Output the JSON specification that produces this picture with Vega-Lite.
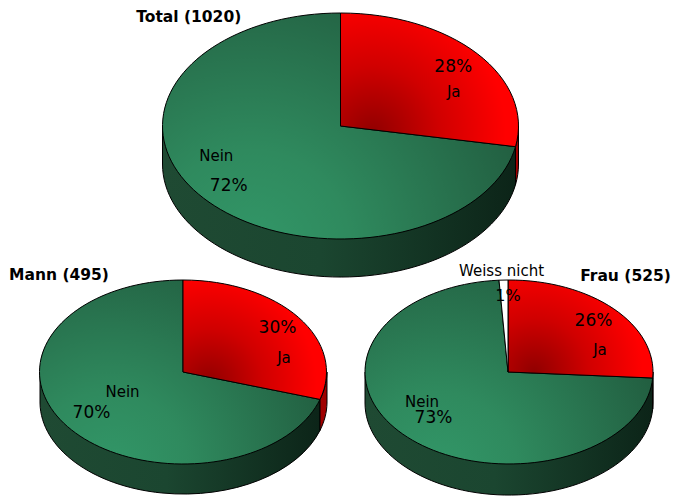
{
"$schema":"https://vega.github.io/schema/vega-lite/v6.json",
"width":673,"height":496,"padding":0,"autosize":{"type":"fit","contains":"padding"},
"background":"white",
"config":{"view":{"stroke":null}},
"resolve":{"scale":{"shape":"independent"}},
"datasets":{
"slices":[
{"pie":"Total","group":"Gesamt","answer":"Ja","share":0.28},
{"pie":"Total","group":"Gesamt","answer":"Nein","share":0.72},
{"pie":"Mann","group":"Geschlecht","answer":"Ja","share":0.30},
{"pie":"Mann","group":"Geschlecht","answer":"Nein","share":0.70},
{"pie":"Frau","group":"Geschlecht","answer":"Ja","share":0.26},
{"pie":"Frau","group":"Geschlecht","answer":"Nein","share":0.73},
{"pie":"Frau","group":"Geschlecht","answer":"Weiss nicht","share":0.01}
],
"pies":[
{"pie":"Total","group":"Gesamt","title":"Total (1020)"},
{"pie":"Mann","group":"Geschlecht","title":"Mann (495)"},
{"pie":"Frau","group":"Geschlecht","title":"Frau (525)"}
]},
"data":{"name":"slices"},
"encoding":{
"x":{"field":"pie","type":"nominal","axis":null,"scale":{"type":"point","domain":["Mann","Total","Frau"],"range":[183.5,509],"padding":0}},
"y":{"field":"group","type":"nominal","axis":null,"scale":{"type":"point","domain":["Gesamt","Geschlecht"],"range":[126,372],"padding":0}}
},
"layer":[
{"transform":[{"filter":"datum.answer=='Nein'"}],
 "mark":{"type":"point","filled":true,"size":4,"opacity":1,"stroke":"black","strokeWidth":1,
  "fill":{"gradient":"linear","x1":0,"x2":1,"y1":0,"y2":0,"stops":[{"offset":0,"color":"#1f4a33"},{"offset":0.45,"color":"#1b4630"},{"offset":1,"color":"#0c2418"}]}},
 "encoding":{"shape":{"field":"pie","type":"nominal","legend":null,"scale":{"domain":["Total","Mann","Frau"],"range":[
  "M-183.75,0 L-183.75,38 A178,113 0 0 0 169.25,58.7 L169.25,20.7 Z",
  "M-143.5,0 L-143.5,31 A143.5,92 0 0 0 136.5,58.4 L136.5,27.4 Z",
  "M-144,0 L-144,31 A144,92 0 0 0 143.7,37 L143.7,6 Z"]}}}},
{"transform":[{"filter":"datum.answer=='Ja'"}],
 "mark":{"type":"point","filled":true,"size":4,"opacity":1,"stroke":"black","strokeWidth":1,"fill":"#a00000"},
 "encoding":{"shape":{"field":"pie","type":"nominal","legend":null,"scale":{"domain":["Total","Mann","Frau"],"range":[
  "M169.25,20.7 A178,113 0 0 0 172.25,0 L172.25,38 A178,113 0 0 1 169.25,58.7 Z",
  "M136.5,27.4 A143.5,92 0 0 0 143.5,0 L143.5,31 A143.5,92 0 0 1 136.5,58.4 Z",
  "M143.7,6 A144,92 0 0 0 144,0 L144,31 A144,92 0 0 1 143.7,37 Z"]}}}},
{"transform":[{"filter":"datum.answer=='Nein'"}],
 "mark":{"type":"point","filled":true,"size":4,"opacity":1,"stroke":"black","strokeWidth":1,
  "fill":{"gradient":"radial","x1":0.25,"y1":0.85,"x2":0.25,"y2":0.85,"r1":0,"r2":0.8,"stops":[{"offset":0,"color":"#329768"},{"offset":0.35,"color":"#2f8a5e"},{"offset":1,"color":"#225f41"}]}},
 "encoding":{"shape":{"field":"pie","type":"nominal","legend":null,"scale":{"domain":["Total","Mann","Frau"],"range":[
  "M-5.75,0 L169.25,20.7 A178,113 0 1 1 -5.75,-113 Z",
  "M-0.5,0 L136.5,27.4 A143.5,92 0 1 1 -0.5,-92 Z",
  "M-1,0 L143.7,6 A144,92 0 1 1 -10,-91.8 Z"]}}}},
{"transform":[{"filter":"datum.answer=='Ja'"}],
 "mark":{"type":"point","filled":true,"size":4,"opacity":1,"stroke":"black","strokeWidth":1,
  "fill":{"gradient":"radial","x1":0.18,"y1":0.8,"x2":0.18,"y2":0.8,"r1":0,"r2":0.75,"stops":[{"offset":0,"color":"#900000"},{"offset":0.5,"color":"#d00000"},{"offset":1,"color":"#ff0000"}]}},
 "encoding":{"shape":{"field":"pie","type":"nominal","legend":null,"scale":{"domain":["Total","Mann","Frau"],"range":[
  "M-5.75,0 L-5.75,-113 A178,113 0 0 1 169.25,20.7 Z",
  "M-0.5,0 L-0.5,-92 A143.5,92 0 0 1 136.5,27.4 Z",
  "M-1,0 L-1,-92 A144,92 0 0 1 143.7,6 Z"]}}}},
{"transform":[{"filter":"datum.answer=='Weiss nicht'"}],
 "mark":{"type":"point","filled":true,"size":4,"opacity":1,"stroke":"black","strokeWidth":1,"fill":"white"},
 "encoding":{"shape":{"field":"pie","type":"nominal","legend":null,"scale":{"domain":["Frau"],"range":["M-1,0 L-10,-91.8 A144,92 0 0 1 -1,-92 Z"]}}}},

{"transform":[{"filter":"datum.pie=='Total'&&datum.answer=='Ja'"}],"mark":{"type":"text","font":"DejaVu Sans","fontSize":17,"color":"#000","dx":107,"dy":-59},"encoding":{"text":{"field":"share","type":"quantitative","format":".0%"}}},
{"transform":[{"filter":"datum.pie=='Total'&&datum.answer=='Ja'"}],"mark":{"type":"text","font":"DejaVu Sans","fontSize":15,"color":"#000","dx":107.5,"dy":-34},"encoding":{"text":{"field":"answer"}}},
{"transform":[{"filter":"datum.pie=='Total'&&datum.answer=='Nein'"}],"mark":{"type":"text","font":"DejaVu Sans","fontSize":15,"color":"#000","dx":-130,"dy":30},"encoding":{"text":{"field":"answer"}}},
{"transform":[{"filter":"datum.pie=='Total'&&datum.answer=='Nein'"}],"mark":{"type":"text","font":"DejaVu Sans","fontSize":17,"color":"#000","dx":-117.5,"dy":60},"encoding":{"text":{"field":"share","type":"quantitative","format":".0%"}}},
{"transform":[{"filter":"datum.pie=='Mann'&&datum.answer=='Ja'"}],"mark":{"type":"text","font":"DejaVu Sans","fontSize":17,"color":"#000","dx":94,"dy":-44},"encoding":{"text":{"field":"share","type":"quantitative","format":".0%"}}},
{"transform":[{"filter":"datum.pie=='Mann'&&datum.answer=='Ja'"}],"mark":{"type":"text","font":"DejaVu Sans","fontSize":15,"color":"#000","dx":100.5,"dy":-14},"encoding":{"text":{"field":"answer"}}},
{"transform":[{"filter":"datum.pie=='Mann'&&datum.answer=='Nein'"}],"mark":{"type":"text","font":"DejaVu Sans","fontSize":15,"color":"#000","dx":-61,"dy":20},"encoding":{"text":{"field":"answer"}}},
{"transform":[{"filter":"datum.pie=='Mann'&&datum.answer=='Nein'"}],"mark":{"type":"text","font":"DejaVu Sans","fontSize":17,"color":"#000","dx":-92,"dy":41},"encoding":{"text":{"field":"share","type":"quantitative","format":".0%"}}},
{"transform":[{"filter":"datum.pie=='Frau'&&datum.answer=='Ja'"}],"mark":{"type":"text","font":"DejaVu Sans","fontSize":17,"color":"#000","dx":84.5,"dy":-51},"encoding":{"text":{"field":"share","type":"quantitative","format":".0%"}}},
{"transform":[{"filter":"datum.pie=='Frau'&&datum.answer=='Ja'"}],"mark":{"type":"text","font":"DejaVu Sans","fontSize":15,"color":"#000","dx":91,"dy":-22},"encoding":{"text":{"field":"answer"}}},
{"transform":[{"filter":"datum.pie=='Frau'&&datum.answer=='Nein'"}],"mark":{"type":"text","font":"DejaVu Sans","fontSize":15,"color":"#000","dx":-87,"dy":30},"encoding":{"text":{"field":"answer"}}},
{"transform":[{"filter":"datum.pie=='Frau'&&datum.answer=='Nein'"}],"mark":{"type":"text","font":"DejaVu Sans","fontSize":17,"color":"#000","dx":-75.5,"dy":46},"encoding":{"text":{"field":"share","type":"quantitative","format":".0%"}}},
{"transform":[{"filter":"datum.answer=='Weiss nicht'"}],"mark":{"type":"text","font":"DejaVu Sans","fontSize":15,"color":"#000","dx":-7.5,"dy":-101},"encoding":{"text":{"field":"answer"}}},
{"transform":[{"filter":"datum.answer=='Weiss nicht'"}],"mark":{"type":"text","font":"DejaVu Sans","fontSize":16,"color":"#000","dx":-1,"dy":-76},"encoding":{"text":{"field":"share","type":"quantitative","format":".0%"}}},

{"data":{"name":"pies"},"transform":[{"filter":"datum.pie=='Total'"}],"mark":{"type":"text","font":"DejaVu Sans","fontSize":15.5,"fontWeight":"bold","color":"#000","dx":-157.5,"dy":-109},"encoding":{"text":{"field":"title"}}},
{"data":{"name":"pies"},"transform":[{"filter":"datum.pie=='Mann'"}],"mark":{"type":"text","font":"DejaVu Sans","fontSize":15.5,"fontWeight":"bold","color":"#000","dx":-124.5,"dy":-97},"encoding":{"text":{"field":"title"}}},
{"data":{"name":"pies"},"transform":[{"filter":"datum.pie=='Frau'"}],"mark":{"type":"text","font":"DejaVu Sans","fontSize":15.5,"fontWeight":"bold","color":"#000","dx":116.5,"dy":-96},"encoding":{"text":{"field":"title"}}}
]
}
